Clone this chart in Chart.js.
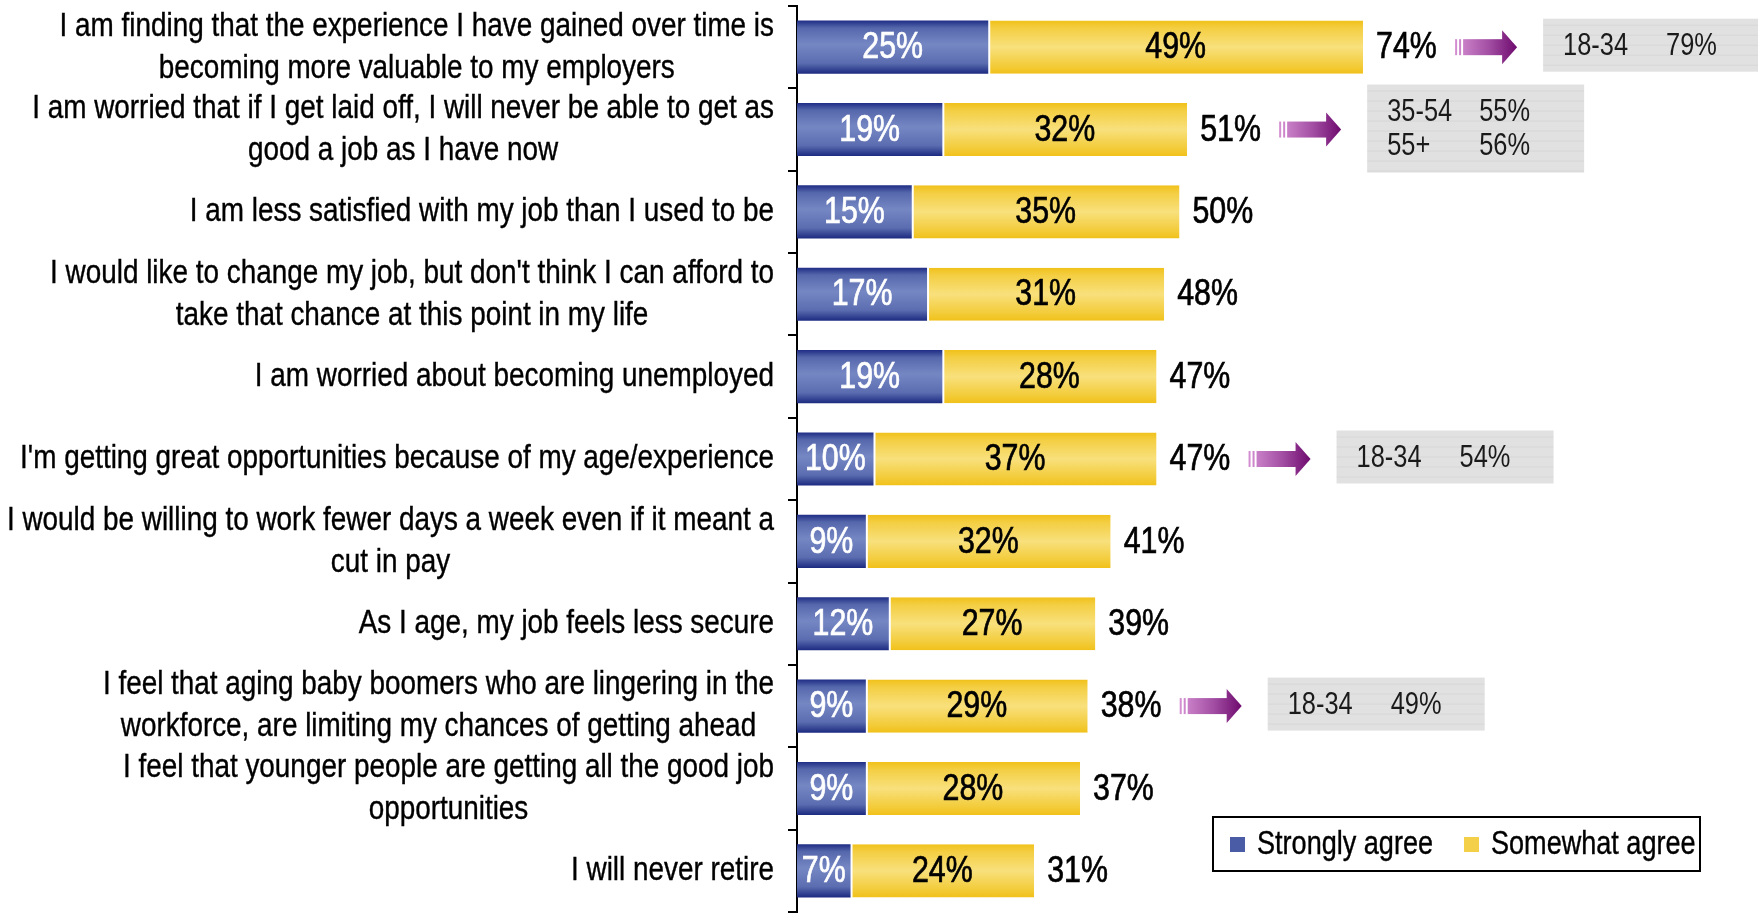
<!DOCTYPE html>
<html>
<head>
<meta charset="utf-8">
<script src="https://cdn.jsdelivr.net/npm/chart.js@4/dist/chart.umd.min.js"></script>
<style>
  html, body { margin: 0; padding: 0; background: #fff; }
  canvas { display: block; }
</style>
</head>
<body>
<canvas id="chart" width="1758" height="914"></canvas>
<script>
const categories = [
  ["I am finding that the experience I have gained over time is", "becoming more valuable to my employers"],
  ["I am worried that if I get laid off, I will never be able to get as", "good a job as I have now"],
  ["I am less satisfied with my job than I used to be"],
  ["I would like to change my job, but don't think I can afford to", "take that chance at this point in my life"],
  ["I am worried about becoming unemployed"],
  ["I'm getting great opportunities because of my age/experience"],
  ["I would be willing to work fewer days a week even if it meant a", "cut in pay"],
  ["As I age, my job feels less secure"],
  ["I feel that aging baby boomers who are lingering in the", "workforce, are limiting my chances of getting ahead"],
  ["I feel that younger people are getting all the good job", "opportunities"],
  ["I will never retire"],
];
const stronglyAgree = [25, 19, 15, 17, 19, 10, 9, 12, 9, 9, 7];
const somewhatAgree = [49, 32, 35, 31, 28, 37, 32, 27, 29, 28, 24];
const totals = [74, 51, 50, 48, 47, 47, 41, 39, 38, 37, 31];

// age-group call-outs next to some rows
const calloutRows = [0, 1, 5, 8];
const calloutGroups = [["18-34"], ["35-54", "55+"], ["18-34"], ["18-34"]];
const calloutValues = [["79%"], ["55%", "56%"], ["54%"], ["49%"]];

// no Arial Narrow here, so squeeze Liberation Sans horizontally
const FONT = '"Liberation Sans", Arial, sans-serif';
const NARROW = 0.82;
const BAR_PCT = 0.645;

function narrowText(ctx, text, x, y, stroke) {
  ctx.save();
  ctx.translate(x, y);
  ctx.scale(NARROW, 1);
  ctx.fillText(text, 0, 0);
  if (stroke) {
    ctx.strokeStyle = ctx.fillStyle;
    ctx.lineWidth = stroke;
    ctx.strokeText(text, 0, 0);
  }
  ctx.restore();
}
function narrowWidth(ctx, text) {
  return ctx.measureText(text).width * NARROW;
}

function barGradient(ctx, stops, fallback) {
  const chart = ctx.chart;
  if (!chart.chartArea || ctx.type !== "data") return fallback;
  const y = chart.scales.y;
  const band = Math.abs(y.getPixelForValue(1) - y.getPixelForValue(0));
  const cy = y.getPixelForValue(ctx.dataIndex);
  const h = (band * BAR_PCT) / 2;
  const g = chart.ctx.createLinearGradient(0, cy - h, 0, cy + h);
  stops.forEach(([p, c]) => g.addColorStop(p, c));
  return g;
}

const blueStops = [[0, "#1f2d85"], [0.14, "#5668ac"], [0.45, "#7587c3"], [0.8, "#5b6db0"], [1, "#1c2a80"]];
const yellowStops = [[0, "#f1c11a"], [0.15, "#f4cf44"], [0.5, "#f8e07c"], [0.85, "#f3cc3a"], [1, "#f1c11a"]];

const labelsPlugin = {
  id: "labels",
  afterDatasetsDraw(chart) {
    const ctx = chart.ctx;
    const y = chart.scales.y;
    const x = chart.scales.x;
    ctx.save();

    // category labels: block right-aligned, lines centred in the block
    ctx.font = "34px " + FONT;
    ctx.fillStyle = "#000";
    ctx.textBaseline = "middle";
    ctx.textAlign = "center";
    const right = chart.chartArea.left - 23;
    const lineH = 42;
    categories.forEach((lines, i) => {
      const cy = y.getPixelForValue(i);
      const w = Math.max(...lines.map((l) => narrowWidth(ctx, l)));
      const cx = right - w / 2;
      lines.forEach((l, j) => {
        narrowText(ctx, l, cx, cy + (j - (lines.length - 1) / 2) * lineH, 0.4);
      });
    });

    // values inside the segments
    ctx.font = "37px " + FONT;
    chart.data.datasets.forEach((ds, di) => {
      const meta = chart.getDatasetMeta(di);
      ctx.fillStyle = di === 0 ? "#fff" : "#000";
      meta.data.forEach((bar, i) => {
        narrowText(ctx, ds.data[i] + "%", (bar.x + bar.base) / 2, bar.y + 1, 0.7);
      });
    });

    // totals
    ctx.textAlign = "left";
    ctx.fillStyle = "#000";
    totals.forEach((t, i) => {
      narrowText(ctx, t + "%", x.getPixelForValue(t) + 13, y.getPixelForValue(i) + 1, 0.7);
    });

    // call-outs: arrow + grey box
    calloutRows.forEach((row, k) => {
      const cy = y.getPixelForValue(row);
      const ax = x.getPixelForValue(totals[row]) + 92;
      const grad = ctx.createLinearGradient(ax, 0, ax + 62, 0);
      grad.addColorStop(0, "#d58fd2");
      grad.addColorStop(0.55, "#a24ea3");
      grad.addColorStop(1, "#6e0a6e");
      ctx.fillStyle = grad;
      ctx.fillRect(ax, cy - 8, 2, 16);
      ctx.fillRect(ax + 4, cy - 8, 2, 16);
      ctx.fillRect(ax + 8, cy - 8, 40, 16);
      ctx.beginPath();
      ctx.moveTo(ax + 47, cy - 17);
      ctx.lineTo(ax + 62, cy);
      ctx.lineTo(ax + 47, cy + 17);
      ctx.closePath();
      ctx.fill();

      const groups = calloutGroups[k];
      const bx = ax + 88;
      const bh = groups.length === 1 ? 53 : 88;
      const by = cy - bh / 2 - (groups.length === 1 ? 2 : 1);
      ctx.fillStyle = "#e1e1e1";
      ctx.fillRect(bx, by, 217, bh);
      ctx.fillStyle = "rgba(0,0,0,0.045)";
      for (let ly = by + 6; ly < by + bh; ly += 10) ctx.fillRect(bx, ly, 217, 1);

      ctx.font = "31px " + FONT;
      ctx.fillStyle = "#1a1a1a";
      const step = 34;
      groups.forEach((g, j) => {
        const ty = by + bh / 2 + (j - (groups.length - 1) / 2) * step + 1;
        narrowText(ctx, g, bx + 20, ty);
        narrowText(ctx, calloutValues[k][j], bx + (groups.length === 1 ? 123 : 112), ty);
      });
    });

    // legend box
    const lx = 1213, ly = 817, lw = 487, lh = 54;
    ctx.fillStyle = "#fff";
    ctx.fillRect(lx, ly, lw, lh);
    ctx.strokeStyle = "#000";
    ctx.lineWidth = 2;
    ctx.strokeRect(lx, ly, lw, lh);
    ctx.font = "33px " + FONT;
    const legendColors = ["#4a5ca6", "#f4d048"];
    const legendX = [1230, 1464];
    chart.data.datasets.forEach((ds, di) => {
      ctx.fillStyle = legendColors[di];
      ctx.fillRect(legendX[di], ly + lh / 2 - 7, 15, 15);
      ctx.fillStyle = "#000";
      narrowText(ctx, ds.label, legendX[di] + 27, ly + lh / 2 + 1, 0.4);
    });

    ctx.restore();
  },
};

new Chart(document.getElementById("chart"), {
  type: "bar",
  data: {
    labels: categories.map((c) => c.join(" ")),
    datasets: [
      {
        label: "Strongly agree",
        data: stronglyAgree,
        backgroundColor: (c) => barGradient(c, blueStops, "#5668ac"),
        borderWidth: 0,
      },
      {
        label: "Somewhat agree",
        data: somewhatAgree,
        backgroundColor: (c) => barGradient(c, yellowStops, "#f4d048"),
        borderColor: "#fff",
        borderWidth: { left: 2, right: 0, top: 0, bottom: 0 },
        borderSkipped: false,
      },
    ],
  },
  options: {
    indexAxis: "y",
    responsive: false,
    animation: false,
    barPercentage: BAR_PCT,
    categoryPercentage: 1,
    layout: { padding: { left: 0, right: 196, top: 6, bottom: 2 } },
    plugins: { legend: { display: false }, tooltip: { enabled: false } },
    scales: {
      x: { stacked: true, min: 0, max: 100, display: false },
      y: {
        stacked: true,
        afterFit: (s) => { s.width = 797; },
        ticks: { display: false },
        grid: {
          offset: true,
          drawOnChartArea: false,
          drawTicks: true,
          tickLength: 9,
          color: "#000",
          lineWidth: 2,
        },
        border: { color: "#000", width: 2 },
      },
    },
  },
  plugins: [labelsPlugin],
});
</script>
</body>
</html>
